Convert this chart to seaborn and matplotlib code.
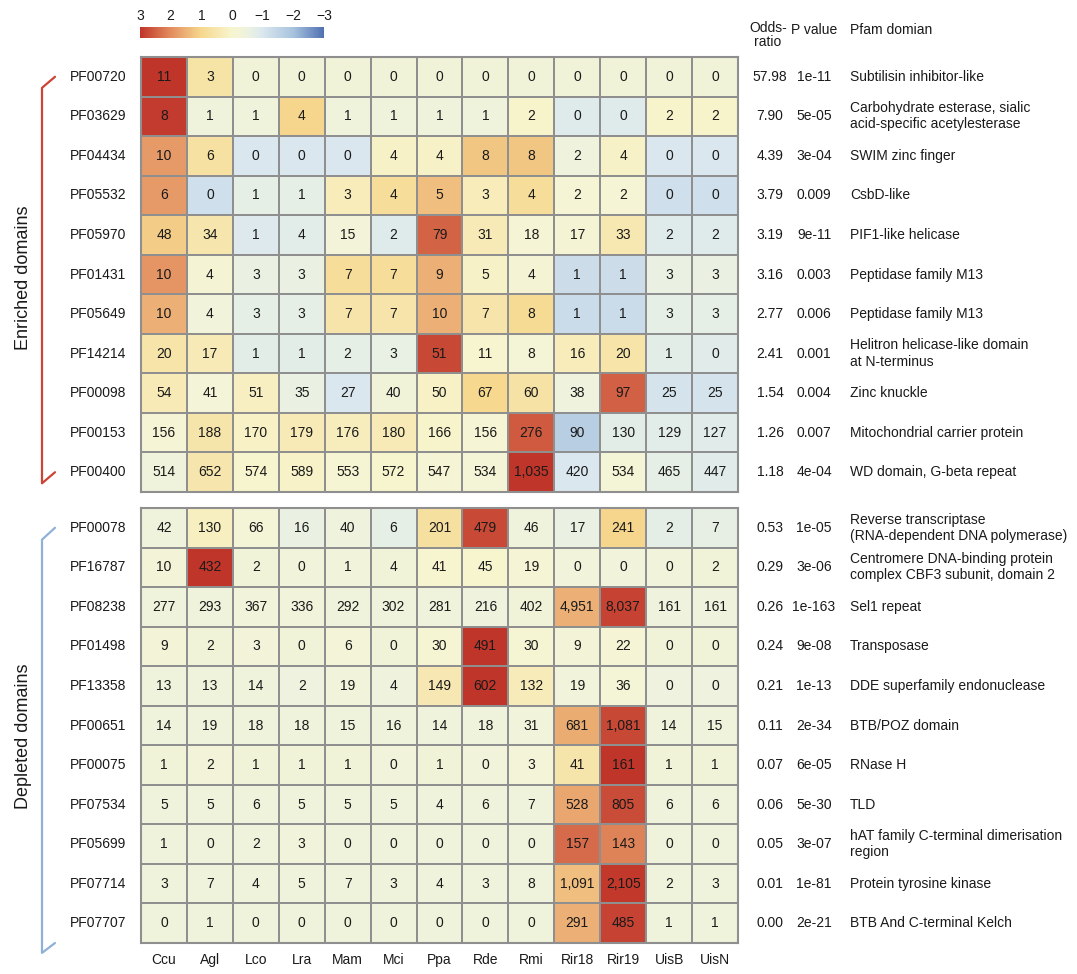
import numpy as np
import pandas as pd
import matplotlib
matplotlib.use("Agg")
import matplotlib.pyplot as plt
import seaborn as sns
from matplotlib.colors import LinearSegmentedColormap
from matplotlib.transforms import blended_transform_factory
from matplotlib.lines import Line2D

sns.set_theme(style="white")
plt.rcParams['font.family'] = ['Liberation Sans', 'DejaVu Sans']

species = ["Ccu", "Agl", "Lco", "Lra", "Mam", "Mci", "Ppa", "Rde", "Rmi",
           "Rir18", "Rir19", "UisB", "UisN"]

enriched_ids = ["PF00720", "PF03629", "PF04434", "PF05532", "PF05970", "PF01431",
                "PF05649", "PF14214", "PF00098", "PF00153", "PF00400"]
enriched_counts = [
    [11, 3, 0, 0, 0, 0, 0, 0, 0, 0, 0, 0, 0],
    [8, 1, 1, 4, 1, 1, 1, 1, 2, 0, 0, 2, 2],
    [10, 6, 0, 0, 0, 4, 4, 8, 8, 2, 4, 0, 0],
    [6, 0, 1, 1, 3, 4, 5, 3, 4, 2, 2, 0, 0],
    [48, 34, 1, 4, 15, 2, 79, 31, 18, 17, 33, 2, 2],
    [10, 4, 3, 3, 7, 7, 9, 5, 4, 1, 1, 3, 3],
    [10, 4, 3, 3, 7, 7, 10, 7, 8, 1, 1, 3, 3],
    [20, 17, 1, 1, 2, 3, 51, 11, 8, 16, 20, 1, 0],
    [54, 41, 51, 35, 27, 40, 50, 67, 60, 38, 97, 25, 25],
    [156, 188, 170, 179, 176, 180, 166, 156, 276, 90, 130, 129, 127],
    [514, 652, 574, 589, 553, 572, 547, 534, 1035, 420, 534, 465, 447],
]
enriched_odds = ["57.98", "7.90", "4.39", "3.79", "3.19", "3.16", "2.77", "2.41", "1.54", "1.26", "1.18"]
enriched_p = ["1e-11", "5e-05", "3e-04", "0.009", "9e-11", "0.003", "0.006", "0.001", "0.004", "0.007", "4e-04"]
enriched_names = ["Subtilisin inhibitor-like",
                  "Carbohydrate esterase, sialic\nacid-specific acetylesterase",
                  "SWIM zinc finger", "CsbD-like", "PIF1-like helicase",
                  "Peptidase family M13", "Peptidase family M13",
                  "Helitron helicase-like domain\nat N-terminus",
                  "Zinc knuckle", "Mitochondrial carrier protein",
                  "WD domain, G-beta repeat"]

depleted_ids = ["PF00078", "PF16787", "PF08238", "PF01498", "PF13358", "PF00651",
                "PF00075", "PF07534", "PF05699", "PF07714", "PF07707"]
depleted_counts = [
    [42, 130, 66, 16, 40, 6, 201, 479, 46, 17, 241, 2, 7],
    [10, 432, 2, 0, 1, 4, 41, 45, 19, 0, 0, 0, 2],
    [277, 293, 367, 336, 292, 302, 281, 216, 402, 4951, 8037, 161, 161],
    [9, 2, 3, 0, 6, 0, 30, 491, 30, 9, 22, 0, 0],
    [13, 13, 14, 2, 19, 4, 149, 602, 132, 19, 36, 0, 0],
    [14, 19, 18, 18, 15, 16, 14, 18, 31, 681, 1081, 14, 15],
    [1, 2, 1, 1, 1, 0, 1, 0, 3, 41, 161, 1, 1],
    [5, 5, 6, 5, 5, 5, 4, 6, 7, 528, 805, 6, 6],
    [1, 0, 2, 3, 0, 0, 0, 0, 0, 157, 143, 0, 0],
    [3, 7, 4, 5, 7, 3, 4, 3, 8, 1091, 2105, 2, 3],
    [0, 1, 0, 0, 0, 0, 0, 0, 0, 291, 485, 1, 1],
]
depleted_odds = ["0.53", "0.29", "0.26", "0.24", "0.21", "0.11", "0.07", "0.06", "0.05", "0.01", "0.00"]
depleted_p = ["1e-05", "3e-06", "1e-163", "9e-08", "1e-13", "2e-34", "6e-05", "5e-30", "3e-07", "1e-81", "2e-21"]
depleted_names = ["Reverse transcriptase\n(RNA-dependent DNA polymerase)",
                  "Centromere DNA-binding protein\ncomplex CBF3 subunit, domain 2",
                  "Sel1 repeat", "Transposase", "DDE superfamily endonuclease",
                  "BTB/POZ domain", "RNase H", "TLD",
                  "hAT family C-terminal dimerisation\nregion",
                  "Protein tyrosine kinase", "BTB And C-terminal Kelch"]

cbar_ticks = [3, 2, 1, 0, -1, -2, -3]

cmap = LinearSegmentedColormap.from_list("custom", [
    (0.0, "#5070b2"),
    (1/6, "#a8c3de"),
    (2/6, "#dae7ee"),
    (2.4/6, "#eaf1e3"),
    (2.75/6, "#f4f4d6"),
    (3/6, "#f7f5cf"),
    (4/6, "#f6d88e"),
    (5/6, "#e38d5f"),
    (1.0, "#c0352a"),
])

W, H = 1077, 974
fig = plt.figure(figsize=(W / 100, H / 100), dpi=100)
TXT = "#1a1a1a"


def rect(l, t, r, b):
    return [l / W, 1 - b / H, (r - l) / W, (b - t) / H]


def zscore(counts):
    a = np.array(counts, dtype=float)
    m = a.mean(axis=1, keepdims=True)
    s = a.std(axis=1, ddof=1, keepdims=True)
    return (a - m) / s


def draw_panel(ax, ids, counts, odds, pvals, names, show_x):
    z = pd.DataFrame(zscore(counts), index=ids, columns=species)
    annot = np.array([[f"{v:,}" for v in row] for row in counts])
    sns.heatmap(z, ax=ax, cmap=cmap, vmin=-3, vmax=3, cbar=False,
                annot=annot, fmt="", annot_kws={"fontsize": 10, "color": TXT},
                linewidths=1.2, linecolor="#8f8f8f")
    for sp in ax.spines.values():
        sp.set_visible(True)
        sp.set_color("#8f8f8f")
        sp.set_linewidth(1.5)
    ax.tick_params(axis="both", length=0)
    ax.set_yticklabels(ids, rotation=0, fontsize=10, color=TXT)
    ax.tick_params(axis="y", pad=10.5)
    if show_x:
        ax.set_xticklabels(species, rotation=0, fontsize=10, color=TXT)
        ax.tick_params(axis="x", pad=7)
    else:
        ax.set_xticks([])
    ax.set_xlabel("")
    ax.set_ylabel("")
    tr = blended_transform_factory(fig.transFigure, ax.transData)
    for i in range(len(ids)):
        y = i + 0.5
        ax.text(770 / W, y, odds[i], transform=tr, ha="center", va="center", fontsize=10, color=TXT)
        ax.text(814 / W, y, pvals[i], transform=tr, ha="center", va="center", fontsize=10, color=TXT)
        ax.text(850 / W, y, names[i], transform=tr, ha="left", va="center", fontsize=10,
                color=TXT, linespacing=1.2)
    return tr


ax1 = fig.add_axes(rect(141, 57, 738, 492))
ax2 = fig.add_axes(rect(141, 508, 738, 943))
tr1 = draw_panel(ax1, enriched_ids, enriched_counts, enriched_odds, enriched_p, enriched_names, False)
tr2 = draw_panel(ax2, depleted_ids, depleted_counts, depleted_odds, depleted_p, depleted_names, True)

# brackets
xl, xr = 42 / W, 55 / W
red = "#cc4433"
blue = "#8fb1d8"
ax1.add_line(Line2D([xr, xl, xl, xr], [0.5, 0.78, 10.78, 10.5], transform=tr1,
                    color=red, lw=1.6, clip_on=False))
ax2.add_line(Line2D([xr, xl, xl, xr], [0.5, 0.8, 11.25, 11.0], transform=tr2,
                    color=blue, lw=1.6, clip_on=False))
fig.text(24 / W, 1 - 278 / H, "Enriched domains", rotation=90, ha="center", va="center",
         fontsize=13, color=TXT)
fig.text(24 / W, 1 - 736 / H, "Depleted domains", rotation=90, ha="center", va="center",
         fontsize=13, color=TXT)

# headers
fig.text(768 / W, 1 - 35 / H, "Odds-\nratio", ha="center", va="center", fontsize=10,
         color=TXT, linespacing=0.95)
fig.text(814 / W, 1 - 30 / H, "P value", ha="center", va="center", fontsize=10, color=TXT)
fig.text(850 / W, 1 - 30 / H, "Pfam domian", ha="left", va="center", fontsize=10, color=TXT)

# colorbar
cax = fig.add_axes(rect(140, 27, 324, 38))
cb = fig.colorbar(ax1.collections[0], cax=cax, orientation="horizontal")
cb.outline.set_visible(False)
cax.invert_xaxis()
cax.xaxis.set_ticks_position("top")
cb.set_ticks(cbar_ticks)
cb.set_ticklabels([str(t).replace("-", "\u2212") for t in cbar_ticks])
cax.tick_params(axis="x", length=0, pad=3, labelsize=10, labelcolor=TXT)

fig.savefig("out.png", dpi=100)
